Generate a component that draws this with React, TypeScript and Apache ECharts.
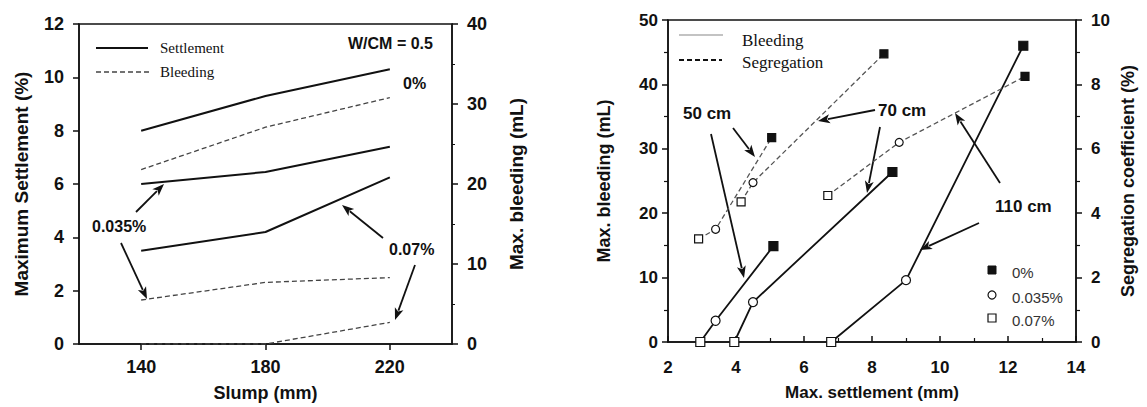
import React, { useEffect, useRef } from "react";
import * as echarts from "echarts";

// ---------- Left panel data ----------
const slump = [140, 180, 220];
const slumpTicks = [140, 180, 220];
const settle0 = [8.0, 9.3, 10.3];
const settle035 = [6.0, 6.45, 7.4];
const settle07 = [3.5, 4.2, 6.25];
const bleed0 = [21.8, 27.1, 30.8];
const bleed035 = [5.5, 7.7, 8.3];
const bleed07 = [0, 0, 2.7];

// ---------- Right panel data ----------
// point order: 0.07% fibre (open square), 0.035% (circle), 0% (filled square)
const fibreLabels = ["0%", "0.035%", "0.07%"];
const settleX50 = [2.95, 3.4, 5.1];
const bleedY50 = [0, 3.3, 14.9];
const settleX70 = [3.95, 4.5, 8.6];
const bleedY70 = [0, 6.2, 26.4];
const settleX110 = [6.8, 9.0, 12.45];
const bleedY110 = [0, 9.6, 46.0];
const segX50 = [2.9, 3.4, 5.05];
const segY50 = [3.2, 3.5, 6.35];
const segX70 = [4.15, 4.5, 8.35];
const segY70 = [4.35, 4.95, 8.95];
const segX110 = [6.7, 8.8, 12.5];
const segY110 = [4.55, 6.2, 8.25];

const INK = "#111";
const SANS = '"Liberation Sans", Arial, Helvetica, sans-serif';
const SERIF = '"Liberation Serif", "Times New Roman", serif';

const markerSymbols = ["rect", "circle", "rect"];
const markerFills = ["#fff", "#fff", INK];

function pts(xs: number[], ys: number[]) {
  return xs.map((x, i) => [x, ys[i]]);
}
function markedPts(xs: number[], ys: number[]) {
  return xs.map((x, i) => ({
    value: [x, ys[i]],
    symbol: markerSymbols[i],
    itemStyle: { color: markerFills[i], borderColor: INK, borderWidth: 1.2 },
  }));
}

function arrow(x1: number, y1: number, x2: number, y2: number) {
  const a = Math.atan2(y2 - y1, x2 - x1);
  const L = 12,
    W = 4.5;
  const c = Math.cos(a),
    s = Math.sin(a);
  const bx = x2 - L * c,
    by = y2 - L * s;
  return [
    {
      type: "line",
      silent: true,
      shape: { x1, y1, x2: bx + 2 * c, y2: by + 2 * s },
      style: { stroke: INK, lineWidth: 1.8 },
    },
    {
      type: "polygon",
      silent: true,
      shape: {
        points: [
          [x2, y2],
          [bx - W * s, by + W * c],
          [bx + 3 * c, by + 3 * s],
          [bx + W * s, by - W * c],
        ],
      },
      style: { fill: INK },
    },
  ];
}

function txt(x: number, y: number, text: string, size: number, opts: any = {}) {
  return {
    type: "text",
    silent: true,
    x,
    y,
    style: {
      text,
      fill: opts.fill || INK,
      font: `${opts.weight || "bold"} ${size}px ${opts.family || SANS}`,
      align: opts.align || "left",
      verticalAlign: "middle",
    },
  };
}

function hline(x1: number, x2: number, y: number, dash: any, color: string, w: number) {
  return {
    type: "line",
    silent: true,
    shape: { x1, y1: y, x2, y2: y },
    style: { stroke: color, lineWidth: w, lineDash: dash },
  };
}

export default function App() {
  const ref = useRef<HTMLDivElement>(null);
  useEffect(() => {
    if (!ref.current) return;
    const chart = echarts.init(ref.current, null, { renderer: "svg" });

    const axisLine = { show: true, onZero: false, lineStyle: { color: INK, width: 1.5 } };
    const tickLabel = (size: number, margin: number) => ({
      color: INK,
      fontSize: size,
      fontWeight: "bold",
      fontFamily: SANS,
      margin,
    });
    const nameStyle = (size: number) => ({
      color: INK,
      fontSize: size,
      fontWeight: "bold",
      fontFamily: SANS,
    });

    const option: any = {
      animation: false,
      grid: [
        { left: 79, top: 24, width: 373, height: 322, show: true, borderColor: INK, borderWidth: 1.5, backgroundColor: "transparent" },
        { left: 668, top: 20, width: 408, height: 322, show: true, borderColor: INK, borderWidth: 1.5, backgroundColor: "transparent" },
      ],
      xAxis: [
        {
          type: "value",
          gridIndex: 0,
          min: 120,
          max: 240,
          interval: 20,
          axisLine,
          axisTick: { show: true, inside: false, length: 6, lineStyle: { color: INK, width: 1.5 }, customValues: slumpTicks },
          axisLabel: { ...tickLabel(18, 14), customValues: slumpTicks },
          splitLine: { show: false },
          name: "Slump (mm)",
          nameLocation: "middle",
          nameGap: 40,
          nameTextStyle: nameStyle(18),
        },
        {
          type: "value",
          gridIndex: 1,
          min: 2,
          max: 14,
          interval: 2,
          axisLine,
          axisTick: { show: true, inside: true, length: 6, lineStyle: { color: INK, width: 1.5 } },
          minorTick: { show: true, splitNumber: 2, length: 4, lineStyle: { color: INK, width: 1.2 } },
          axisLabel: tickLabel(17, 17),
          splitLine: { show: false },
          name: "Max. settlement (mm)",
          nameLocation: "middle",
          nameGap: 42,
          nameTextStyle: nameStyle(17),
        },
      ],
      yAxis: [
        {
          type: "value",
          gridIndex: 0,
          position: "left",
          min: 0,
          max: 12,
          interval: 2,
          axisLine,
          axisTick: { show: true, inside: false, length: 6, lineStyle: { color: INK, width: 1.5 } },
          axisLabel: tickLabel(18, 15),
          splitLine: { show: false },
          name: "Maximum Settlement (%)",
          nameLocation: "middle",
          nameGap: 48,
          nameTextStyle: nameStyle(19),
        },
        {
          type: "value",
          gridIndex: 0,
          position: "right",
          min: 0,
          max: 40,
          interval: 10,
          axisLine,
          axisTick: { show: true, inside: false, length: 6, lineStyle: { color: INK, width: 1.5 } },
          minorTick: { show: true, splitNumber: 2, length: 3, lineStyle: { color: INK, width: 1 } },
          axisLabel: tickLabel(18, 15),
          splitLine: { show: false },
          name: "Max. bleeding (mL)",
          nameLocation: "middle",
          nameGap: 55,
          nameTextStyle: nameStyle(19),
        },
        {
          type: "value",
          gridIndex: 1,
          position: "left",
          min: 0,
          max: 50,
          interval: 10,
          axisLine,
          axisTick: { show: true, inside: false, length: 6, lineStyle: { color: INK, width: 1.5 } },
          minorTick: { show: true, splitNumber: 2, length: 4, lineStyle: { color: INK, width: 1.2 } },
          axisLabel: tickLabel(17, 10),
          splitLine: { show: false },
          name: "Max. bleeding (mL)",
          nameLocation: "middle",
          nameGap: 55,
          nameTextStyle: nameStyle(18),
        },
        {
          type: "value",
          gridIndex: 1,
          position: "right",
          min: 0,
          max: 10,
          interval: 2,
          axisLine,
          axisTick: { show: true, inside: false, length: 6, lineStyle: { color: INK, width: 1.5 } },
          minorTick: { show: true, splitNumber: 2, length: 4, lineStyle: { color: INK, width: 1.2 } },
          axisLabel: tickLabel(17, 15),
          splitLine: { show: false },
          name: "Segregation coefficient (%)",
          nameLocation: "middle",
          nameGap: 43,
          nameTextStyle: nameStyle(18),
        },
      ],
      series: [
        // left panel: settlement (solid)
        ...[settle0, settle035, settle07].map((ys, k) => ({
          name: "Settlement " + fibreLabels[k],
          type: "line",
          xAxisIndex: 0,
          yAxisIndex: 0,
          data: pts(slump, ys),
          symbol: "none",
          lineStyle: { color: INK, width: 2 },
        })),
        // left panel: bleeding (dashed, right axis)
        ...[bleed0, bleed035, bleed07].map((ys, k) => ({
          name: "Bleeding " + fibreLabels[k],
          type: "line",
          xAxisIndex: 0,
          yAxisIndex: 1,
          data: pts(slump, ys),
          symbol: "none",
          lineStyle: { color: "#444", width: 1.3, type: [5, 3] },
        })),
        // right panel: bleeding (solid)
        ...[
          ["Bleeding 50 cm", settleX50, bleedY50],
          ["Bleeding 70 cm", settleX70, bleedY70],
          ["Bleeding 110 cm", settleX110, bleedY110],
        ].map(([n, xs, ys]: any) => ({
          name: n,
          type: "line",
          xAxisIndex: 1,
          yAxisIndex: 2,
          data: markedPts(xs, ys),
          symbolSize: 9,
          lineStyle: { color: INK, width: 1.8 },
          z: 3,
        })),
        // right panel: segregation (dashed)
        ...[
          ["Segregation 50 cm", segX50, segY50],
          ["Segregation 70 cm", segX70, segY70],
          ["Segregation 110 cm", segX110, segY110],
        ].map(([n, xs, ys]: any) => ({
          name: n,
          type: "line",
          xAxisIndex: 1,
          yAxisIndex: 3,
          data: markedPts(xs, ys),
          symbolSize: 8,
          lineStyle: { color: "#555", width: 1.3, type: [5, 3] },
          z: 3,
        })),
      ],
      graphic: [
        // left legend
        hline(96, 148, 48, null, INK, 1.8),
        txt(160, 48, "Settlement", 15, { weight: "normal", family: SERIF }),
        hline(96, 150, 72, [5, 3], "#444", 1.3),
        txt(160, 72, "Bleeding", 15, { weight: "normal", family: SERIF }),
        txt(348, 43, "W/CM = 0.5", 16),
        txt(403, 83, "0%", 16),
        txt(92, 226, "0.035%", 16),
        txt(389, 249, "0.07%", 16),
        ...arrow(136, 212, 164, 184),
        ...arrow(121, 243, 147, 299),
        ...arrow(383, 238, 342, 205),
        ...arrow(415, 265, 395, 320),
        // right legend
        hline(679, 723, 35, null, "#888", 1.2),
        txt(742, 40, "Bleeding", 17, { weight: "normal", family: SERIF }),
        hline(679, 722, 60, [5, 3], INK, 1.8),
        txt(742, 62, "Segregation", 17, { weight: "normal", family: SERIF }),
        txt(683, 113, "50 cm", 17),
        txt(878, 110, "70 cm", 17),
        txt(995, 206, "110 cm", 17),
        ...arrow(733, 128, 755, 157),
        ...arrow(711, 134, 744, 278),
        ...arrow(875, 110, 818, 121),
        ...arrow(880, 127, 867, 193),
        ...arrow(1000, 183, 955, 113),
        ...arrow(979, 223, 920, 250),
        // symbol legend
        { type: "rect", silent: true, shape: { x: 988, y: 266, width: 8, height: 8 }, style: { fill: INK, stroke: INK, lineWidth: 1 } },
        { type: "circle", silent: true, shape: { cx: 992, cy: 295, r: 4 }, style: { fill: "#fff", stroke: INK, lineWidth: 1.2 } },
        { type: "rect", silent: true, shape: { x: 988, y: 314, width: 8, height: 8 }, style: { fill: "#fff", stroke: INK, lineWidth: 1.2 } },
        txt(1012, 272, fibreLabels[0], 15, { weight: "normal", fill: "#333" }),
        txt(1012, 297, fibreLabels[1], 15, { weight: "normal", fill: "#333" }),
        txt(1012, 320, fibreLabels[2], 15, { weight: "normal", fill: "#333" }),
      ],
    };
    chart.setOption(option);
    return () => chart.dispose();
  }, []);
  return (
    <div
      ref={ref}
      style={{ position: "fixed", left: 0, top: 0, width: 1147, height: 407, background: "#fff" }}
    />
  );
}
